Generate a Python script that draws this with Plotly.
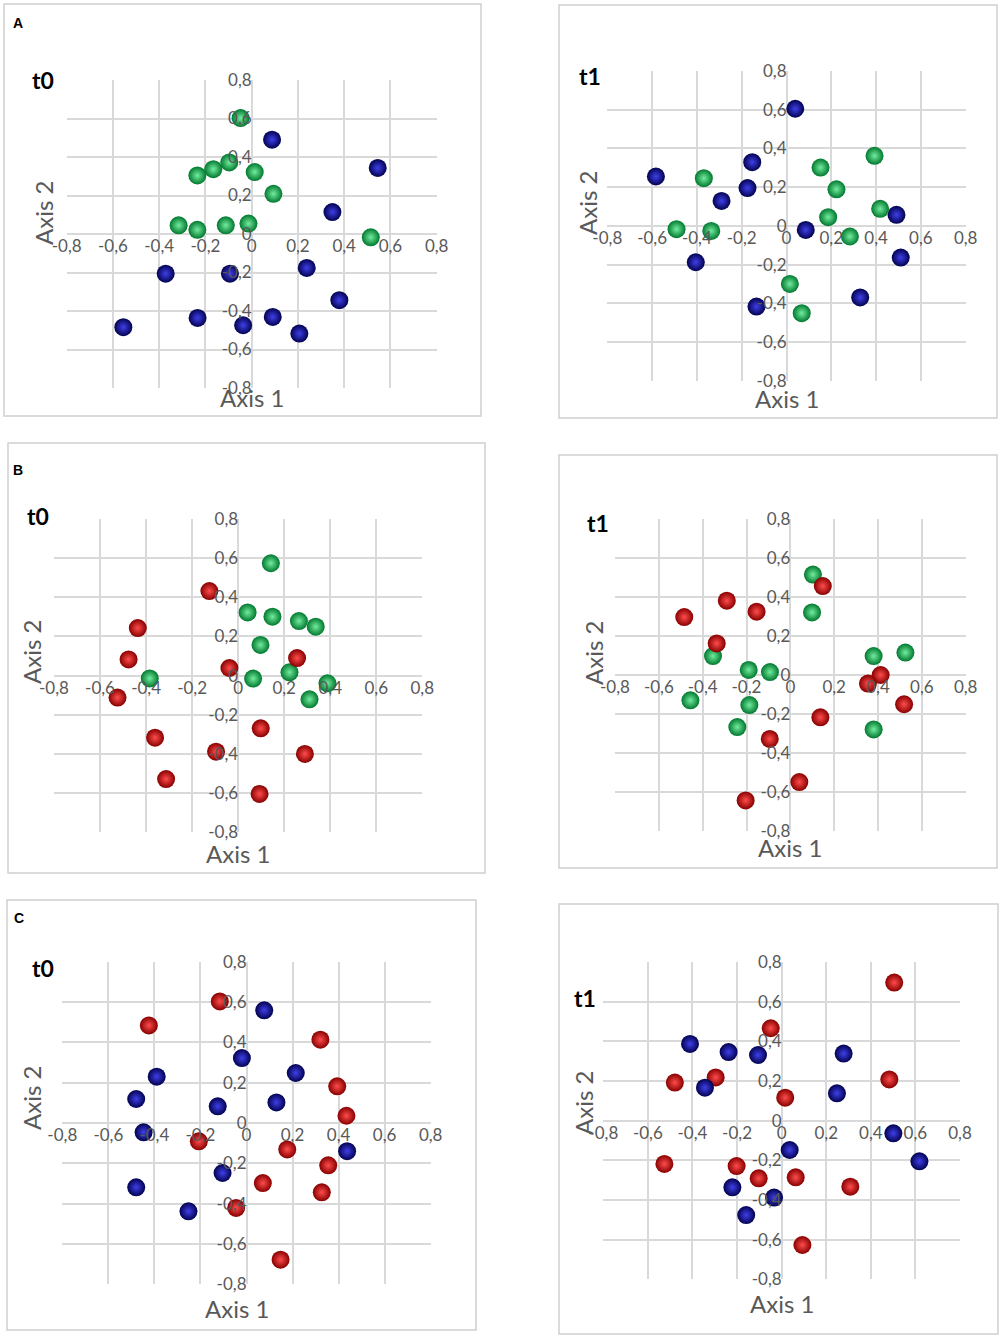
import plotly.graph_objects as go

W, H = 1002, 1339

# Excel style ticks with decimal comma
tick_vals = [-0.8, -0.6, -0.4, -0.2, 0, 0.2, 0.4, 0.6, 0.8]
tick_text = ['-0,8', '-0,6', '-0,4', '-0,2', '0', '0,2', '0,4', '0,6', '0,8']

# panel A, t0
a0_green_x = [-0.048, -0.097, -0.166, -0.235, 0.013, 0.094, -0.316, -0.235, -0.112, -0.014, 0.515]
a0_green_y = [0.602, 0.372, 0.337, 0.304, 0.322, 0.209, 0.045, 0.022, 0.045, 0.054, -0.017]
a0_blue_x = [0.088, 0.545, 0.349, -0.372, -0.094, 0.238, 0.379, -0.234, -0.555, -0.037, 0.091, 0.206]
a0_blue_y = [0.490, 0.343, 0.114, -0.206, -0.206, -0.176, -0.344, -0.436, -0.484, -0.474, -0.431, -0.517]

# panel A, t1
a1_blue_x = [0.039, -0.153, -0.583, -0.174, -0.290, 0.086, 0.491, 0.510, -0.405, -0.134, 0.329]
a1_blue_y = [0.605, 0.329, 0.255, 0.195, 0.129, -0.021, 0.057, -0.164, -0.188, -0.417, -0.370]
a1_green_x = [-0.369, -0.491, -0.336, 0.152, 0.223, 0.393, 0.186, 0.418, 0.283, 0.015, 0.068]
a1_green_y = [0.246, -0.017, -0.026, 0.301, 0.189, 0.362, 0.045, 0.088, -0.055, -0.300, -0.451]

# panel B, t0
b0_green_x = [0.142, 0.041, 0.149, 0.264, 0.337, 0.097, -0.384, 0.065, 0.223, 0.388, 0.310]
b0_green_y = [0.574, 0.323, 0.301, 0.279, 0.250, 0.157, -0.014, -0.015, 0.017, -0.039, -0.121]
b0_red_x = [-0.125, -0.436, -0.476, -0.038, 0.256, -0.524, -0.361, 0.098, -0.096, 0.290, -0.313, 0.093]
b0_red_y = [0.432, 0.243, 0.083, 0.039, 0.090, -0.112, -0.317, -0.269, -0.388, -0.400, -0.528, -0.604]

# panel B, t1
b1_green_x = [0.103, 0.099, -0.353, -0.190, -0.093, 0.380, 0.525, -0.456, -0.187, -0.242, 0.380]
b1_green_y = [0.515, 0.321, 0.097, 0.026, 0.015, 0.097, 0.115, -0.130, -0.154, -0.267, -0.279]
b1_red_x = [0.148, -0.290, -0.154, -0.484, -0.336, 0.412, 0.354, 0.519, 0.137, -0.094, 0.041, -0.204]
b1_red_y = [0.456, 0.381, 0.325, 0.297, 0.162, 0.000, -0.044, -0.150, -0.217, -0.328, -0.549, -0.643]

# panel C, t0
c0_red_x = [-0.116, -0.424, 0.321, 0.394, 0.434, -0.207, 0.177, 0.355, 0.071, 0.327, -0.045, 0.148]
c0_red_y = [0.603, 0.484, 0.413, 0.182, 0.036, -0.091, -0.131, -0.210, -0.298, -0.344, -0.421, -0.678]
c0_blue_x = [0.077, -0.020, -0.390, 0.214, -0.479, -0.125, 0.130, -0.447, 0.437, -0.104, -0.479, -0.252]
c0_blue_y = [0.559, 0.322, 0.230, 0.248, 0.119, 0.083, 0.102, -0.046, -0.140, -0.248, -0.319, -0.438]

# panel C, t1
c1_red_x = [0.505, -0.049, -0.479, -0.296, 0.483, 0.016, -0.526, -0.202, -0.103, 0.063, 0.308, 0.093]
c1_red_y = [0.696, 0.466, 0.192, 0.218, 0.208, 0.116, -0.218, -0.229, -0.291, -0.286, -0.333, -0.627]
c1_blue_x = [-0.411, -0.238, -0.106, 0.278, -0.344, 0.248, 0.501, 0.036, 0.618, -0.221, -0.034, -0.159]
c1_blue_y = [0.387, 0.346, 0.331, 0.338, 0.166, 0.138, -0.064, -0.148, -0.205, -0.336, -0.388, -0.476]

# sphere colours: (edge, centre)
spheres = {
    'blue': ('#02024f', '#3f3fea'),
    'green': ('#00782e', '#72ec9e'),
    'red': ('#880000', '#ff4c4c'),
}

# pixel layout for each panel: plot area, border, title, axis titles
panels = [
    dict(series=[('green', a0_green_x, a0_green_y), ('blue', a0_blue_x, a0_blue_y)],
         area=(66.7, 80, 436.7, 388), box=(4, 4, 481, 416), title='t0', tpos=(43, 80),
         ax1=(252, 397), ax2=(43, 213)),
    dict(series=[('blue', a1_blue_x, a1_blue_y), ('green', a1_green_x, a1_green_y)],
         area=(607.3, 71, 965.7, 380.7), box=(559, 5, 997, 418), title='t1', tpos=(590, 76),
         ax1=(787, 398), ax2=(587, 203)),
    dict(series=[('green', b0_green_x, b0_green_y), ('red', b0_red_x, b0_red_y)],
         area=(54, 519, 422.3, 832.3), box=(8, 443, 485, 873), title='t0', tpos=(38, 516),
         ax1=(238, 853), ax2=(31, 652)),
    dict(series=[('green', b1_green_x, b1_green_y), ('red', b1_red_x, b1_red_y)],
         area=(615, 519, 965.7, 831), box=(559, 455, 997, 868), title='t1', tpos=(598, 523),
         ax1=(790, 847), ax2=(593, 653)),
    dict(series=[('red', c0_red_x, c0_red_y), ('blue', c0_blue_x, c0_blue_y)],
         area=(62.3, 961.7, 430.7, 1284.3), box=(7, 900, 476, 1330), title='t0', tpos=(43, 968),
         ax1=(237, 1308), ax2=(31, 1098)),
    dict(series=[('red', c1_red_x, c1_red_y), ('blue', c1_blue_x, c1_blue_y)],
         area=(603.3, 962, 960, 1279.3), box=(559, 904, 998, 1334), title='t1', tpos=(585, 998),
         ax1=(782, 1303), ax2=(583, 1103)),
]
letters = [('A', 18, 23), ('B', 18, 470), ('C', 19, 918)]


def fx(p):
    return p / W


def fy(p):
    return 1 - p / H


def label(text, x, y, font, angle=0):
    return dict(text=text, x=fx(x), y=fy(y), xref='paper', yref='paper', xanchor='center',
                yanchor='middle', showarrow=False, textangle=angle, font=font)


grid = '#d9d9d9'
grey = '#595959'
tick_font = dict(family='Lato', size=17, color=grey)
title_font = dict(family='Lato', size=23, color='black')
axis_font = dict(family='Lato', size=24, color=grey)

fig = go.Figure()
shapes, annotations = [], []

for i, p in enumerate(panels, start=1):
    x0, y0, x1, y1 = p['area']
    xd = [fx(x0), fx(x1)]
    yd = [fy(y1), fy(y0)]
    for colour, xs, ys in p['series']:
        edge, centre = spheres[colour]
        fig.add_trace(go.Scatter(x=xs, y=ys, mode='markers', xaxis=f'x{i}', yaxis=f'y{i}',
                                 showlegend=False, hoverinfo='skip',
                                 marker=dict(size=18, color=edge, line=dict(width=0),
                                             gradient=dict(type='radial', color=centre))))
    common = dict(range=[-0.8, 0.8], tickvals=tick_vals, ticktext=tick_text, tickfont=tick_font,
                  showgrid=True, gridcolor=grid, gridwidth=1.5, zeroline=True, zerolinecolor=grid,
                  zerolinewidth=1.5, showline=False, ticks='', anchor='free', automargin=False,
                  fixedrange=True)
    fig.update_layout({
        f'xaxis{i}': dict(domain=xd, position=sum(yd) / 2, **common),
        f'yaxis{i}': dict(domain=yd, position=sum(xd) / 2, **common),
    })
    bx0, by0, bx1, by1 = p['box']
    shapes.append(dict(type='rect', xref='paper', yref='paper', x0=fx(bx0), x1=fx(bx1),
                       y0=fy(by1), y1=fy(by0), line=dict(color='#d0d0d0', width=1.5)))
    annotations.append(label(f"<b>{p['title']}</b>", *p['tpos'], title_font))
    annotations.append(label('Axis 1', *p['ax1'], axis_font))
    annotations.append(label('Axis 2', *p['ax2'], axis_font, angle=-90))

for letter, lx, ly in letters:
    annotations.append(label(f'<b>{letter}</b>', lx, ly,
                             dict(family='Liberation Sans', size=14, color='black')))

fig.update_layout(width=W, height=H, margin=dict(l=0, r=0, t=0, b=0, autoexpand=False),
                  paper_bgcolor='white', plot_bgcolor='white',
                  shapes=shapes, annotations=annotations)
# drop the page's default body margin so the figure fills the window
fig.write_html("out.html", config={'displayModeBar': False},
               post_script="document.body.style.margin = '0px';")
